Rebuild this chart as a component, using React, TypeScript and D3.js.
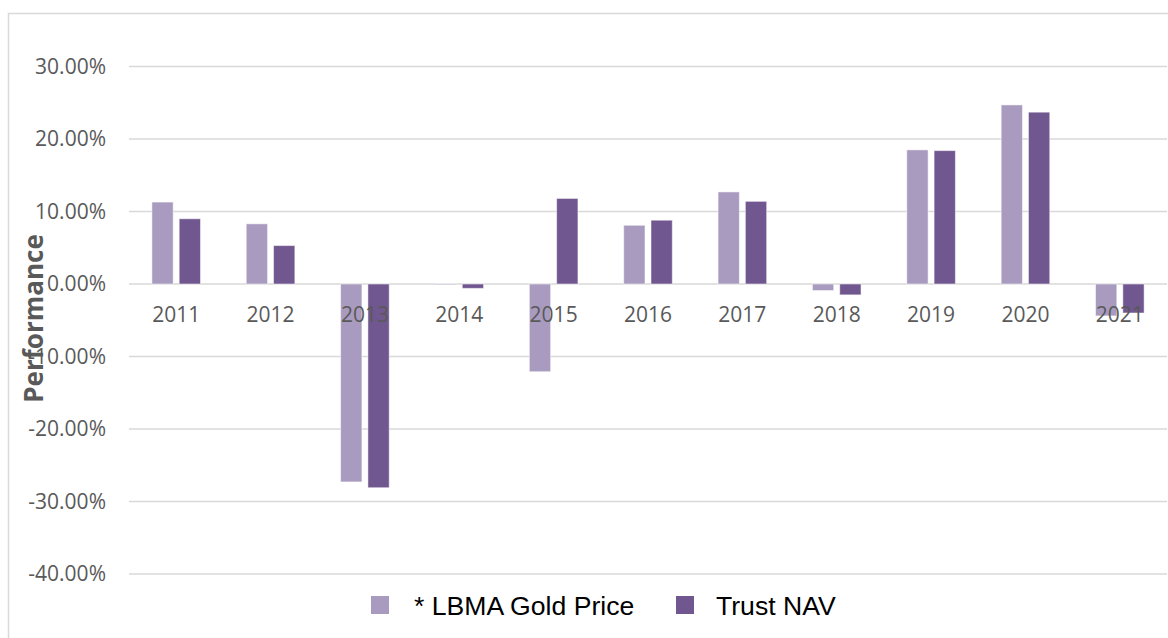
import React from "react";
import * as d3 from "d3";

const years = ["2011","2012","2013","2014","2015","2016","2017","2018","2019","2020","2021"];
const goldPrice = [11.3, 8.3, -27.3, -0.1, -12.1, 8.1, 12.7, -0.9, 18.5, 24.7, -4.4];
const trustNav = [9.0, 5.3, -28.1, -0.6, 11.8, 8.8, 11.4, -1.5, 18.4, 23.7, -4.0];
const yTicks = [30, 20, 10, 0, -10, -20, -30, -40];
const seriesNames = ["* LBMA Gold Price", "Trust NAV"];
const colors = ["#a99bbf", "#71578f"];

export default function App() {
  const W = 1168, H = 638;
  const x = d3.scaleBand<string>().domain(years).range([129, 1167]);
  const y = d3.scaleLinear().domain([-40, 30]).range([574, 66.5]);
  const barW = 21.3, gap = 6;
  const series = [goldPrice, trustNav];
  const textColor = "#595959";
  return (
    <div style={{ position: "absolute", left: 0, top: 0 }}>
      <svg width={W} height={H} style={{ display: "block" }}>
        <rect x={0} y={0} width={W} height={H} fill="#fff" />
        <rect x={8.5} y={13.5} width={W + 20} height={H + 20} fill="none" stroke="#d9d9d9" strokeWidth={1.5} />
        {yTicks.map((t) => (
          <g key={t}>
            <line x1={129} x2={1167} y1={y(t)} y2={y(t)} stroke="#d9d9d9" strokeWidth={1.5} />
            <text x={106} y={y(t) + 7} textAnchor="end" fontFamily="'Open Sans'" fontSize={21} fill={textColor}>
              {t.toFixed(2) + "%"}
            </text>
          </g>
        ))}
        {years.map((yr, i) => {
          const cx = (x(yr) as number) + x.bandwidth() / 2;
          return (
            <g key={yr}>
              {series.map((s, k) => {
                const v = s[i];
                const bx = k === 0 ? cx - gap / 2 - barW : cx + gap / 2;
                const y0 = y(0), y1 = y(v);
                return (
                  <rect key={k} x={bx} y={Math.min(y0, y1)} width={barW} height={Math.abs(y1 - y0)}
                    fill={colors[k]} stroke="#ffffff" strokeOpacity={0.5} strokeWidth={1} />
                );
              })}
            </g>
          );
        })}
        {years.map((yr) => {
          const cx = (x(yr) as number) + x.bandwidth() / 2;
          return (
            <text key={yr} x={cx} y={322} textAnchor="middle" fontFamily="'Open Sans'" fontSize={21} fill={textColor}>
              {yr}
            </text>
          );
        })}
        <text transform="translate(43,318.5) rotate(-90)" textAnchor="middle" fontFamily="'Open Sans'" fontWeight="bold" fontSize={26} fill={textColor}>
          Performance
        </text>
        <g>
          <rect x={371} y={596} width={18} height={18} fill={colors[0]} />
          <text x={414} y={615} fontFamily="'Liberation Sans', Arial" fontSize={26.6} fill="#000">{seriesNames[0]}</text>
          <rect x={676} y={596} width={18} height={18} fill={colors[1]} />
          <text x={716} y={615} fontFamily="'Liberation Sans', Arial" fontSize={26.6} fill="#000">{seriesNames[1]}</text>
        </g>
      </svg>
    </div>
  );
}
